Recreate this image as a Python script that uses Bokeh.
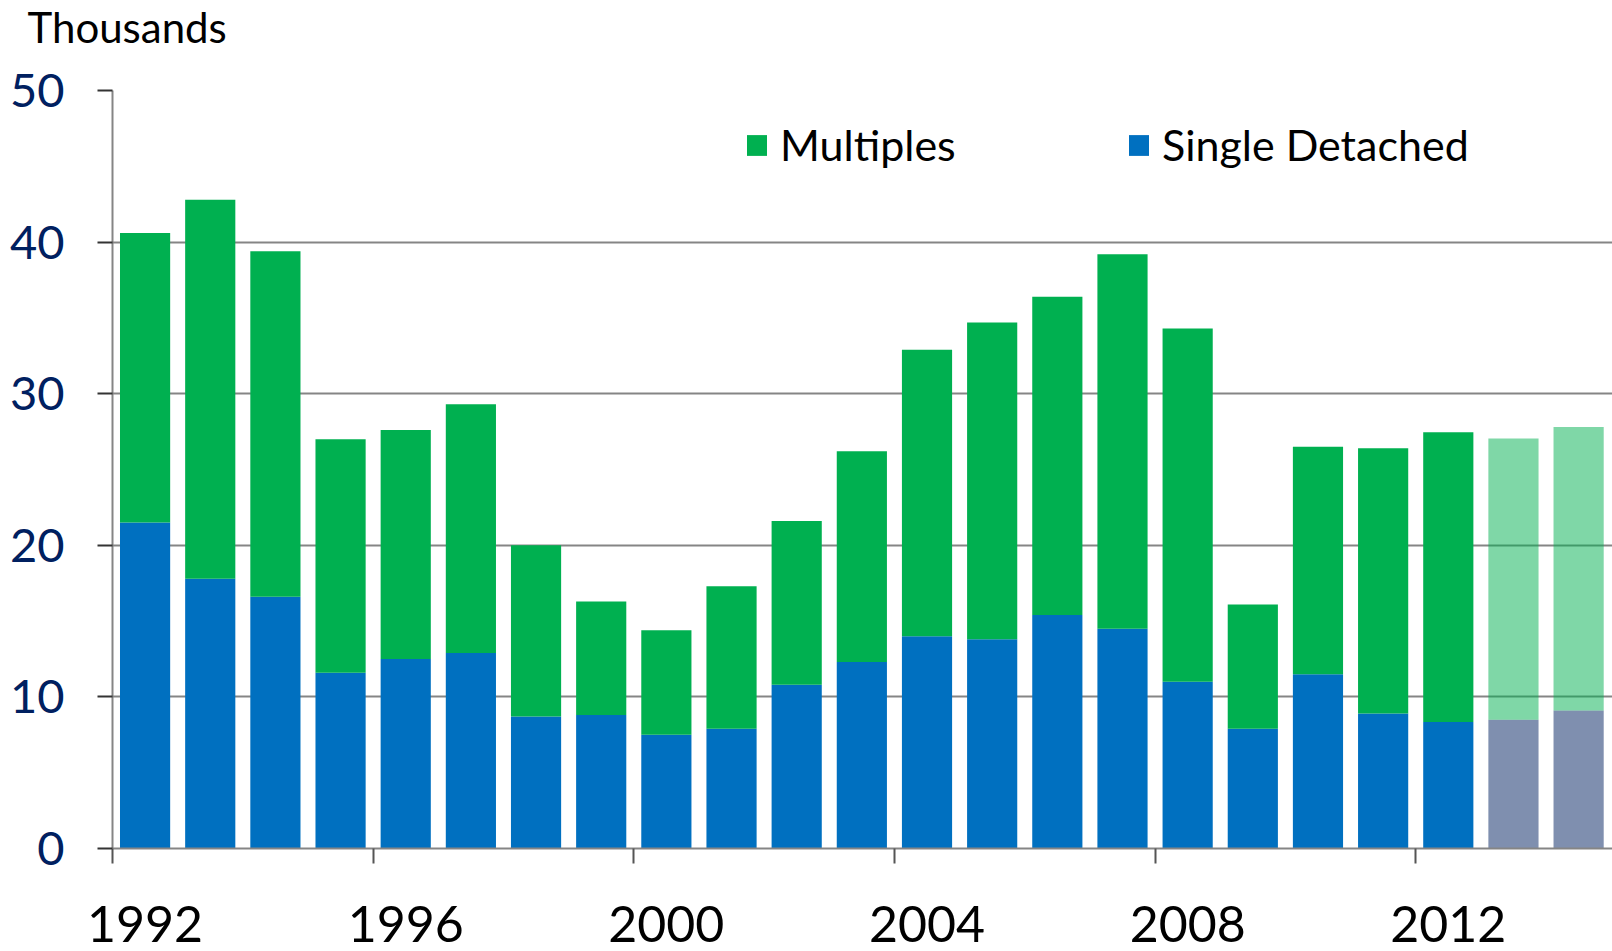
import numpy as np
from bokeh.plotting import figure
from bokeh.models import (ColumnDataSource, Range1d, FixedTicker, Legend, LegendItem, Label)
from bokeh.embed import file_html
from bokeh.resources import INLINE

# ---- data (thousands) ----
years = list(range(1992, 2015))
single = [21.5, 17.8, 16.6, 11.6, 12.5, 12.9, 8.7, 8.8, 7.5, 7.9, 10.8, 12.3,
          14.0, 13.8, 15.4, 14.5, 11.0, 7.9, 11.5, 8.9, 8.35, 8.5, 9.1]
total = [40.6, 42.8, 39.4, 27.0, 27.6, 29.3, 20.0, 16.3, 14.4, 17.3, 21.6, 26.2,
         32.9, 34.7, 36.4, 39.2, 34.3, 16.1, 26.5, 26.4, 27.45, 27.05, 27.8]
forecast = [False] * 21 + [True, True]
tick_labels = ["1992", "1996", "2000", "2004", "2008", "2012"]

multiples = [t - s for t, s in zip(total, single)]

GREEN = "#00B050"
BLUE = "#0070C0"
NAVY = "#002060"
GRID = "#858585"
FONT = "Lato"

x = np.arange(len(years)) + 0.5
src = ColumnDataSource(dict(
    x=x,
    single=single,
    total=total,
    s_color=[NAVY if f else BLUE for f in forecast],
    alpha=[0.5 if f else 1.0 for f in forecast],
))

p = figure(width=1612, height=951, output_backend="svg", toolbar_location=None,
           x_range=Range1d(0, 23.02), y_range=Range1d(0, 50),
           min_border_left=112, min_border_right=0, min_border_top=90,
           min_border_bottom=103)
p.outline_line_color = None
p.xgrid.grid_line_color = None
p.ygrid.grid_line_color = GRID
p.ygrid.grid_line_width = 2

# unit label in the top panel
p.add_layout(Label(x=0, y=64, x_units="screen", y_units="screen", x_offset=-85,
                   text="Thousands", text_font=FONT, text_font_size="42px",
                   text_color="black", text_baseline="alphabetic"), "above")

r_single = p.vbar(x="x", top="single", bottom=0, width=0.77, source=src,
                  fill_color="s_color", fill_alpha="alpha", line_color=None)
r_multi = p.vbar(x="x", top="total", bottom="single", width=0.77, source=src,
                 fill_color=GREEN, fill_alpha="alpha", line_color=None)

# y axis
yax = p.yaxis[0]
yax.ticker = FixedTicker(ticks=[0, 10, 20, 30, 40, 50])
yax.axis_line_color = GRID
yax.axis_line_width = 2
yax.major_tick_line_color = "#333333"
yax.major_tick_line_width = 2
yax.major_tick_out = 15
yax.major_tick_in = 0
yax.minor_tick_line_color = None
yax.major_label_text_font = FONT
yax.major_label_text_font_size = "47px"
yax.major_label_text_color = NAVY
yax.major_label_standoff = 33

# x axis: labels under bars, ticks at slot boundaries
idx = list(range(0, len(years), 4))
xax = p.xaxis[0]
xax.ticker = FixedTicker(ticks=[float(x[i]) for i in idx],
                         minor_ticks=[float(i) for i in idx])
xax.major_label_overrides = {float(x[i]): lab for i, lab in zip(idx, tick_labels)}
xax.axis_line_color = GRID
xax.axis_line_width = 2
xax.major_tick_line_color = None
xax.major_tick_out = 0
xax.major_tick_in = 0
xax.minor_tick_line_color = "#555555"
xax.minor_tick_line_width = 2
xax.minor_tick_out = 15
xax.minor_tick_in = 0
xax.major_label_text_font = FONT
xax.major_label_text_font_size = "50px"
xax.major_label_text_color = "black"
xax.major_label_standoff = 42

# legends
for rend, name, loc in [(r_multi, "Multiples", (632, 678)),
                        (r_single, "Single Detached", (1014, 678))]:
    lg = Legend(items=[LegendItem(label=name, renderers=[rend], index=0)],
                location=loc, orientation="horizontal",
                glyph_width=25, glyph_height=26, label_standoff=11,
                label_text_font=FONT, label_text_font_size="43px",
                label_text_color="black",
                padding=0, margin=0, border_line_color=None,
                background_fill_alpha=0)
    p.add_layout(lg)

open("out.html", "w").write(file_html(p, INLINE))
